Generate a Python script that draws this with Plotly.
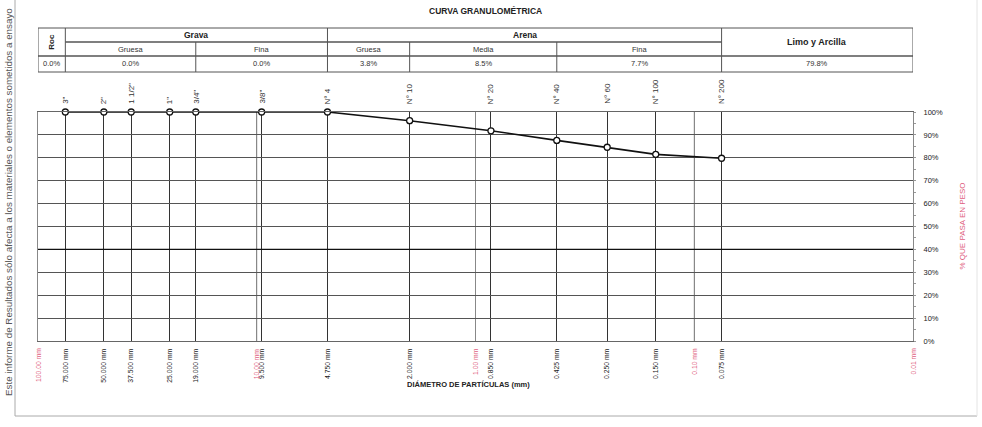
import math
import plotly.graph_objects as go

# Sieve series (ASTM) and cumulative percent passing
sieve_names = ['3"', '2"', '1 1/2"', '1"', '3/4"', '3/8"', "N° 4", "N° 10", "N° 20",
               "N° 40", "N° 60", "N° 100", "N° 200"]
sieve_mm = [75.0, 50.0, 37.5, 25.0, 19.0, 9.5, 4.75, 2.0, 0.85, 0.425, 0.25, 0.15, 0.075]
sieve_labels = ["75.000 mm", "50.000 mm", "37.500 mm", "25.000 mm", "19.000 mm", "9.500 mm",
                "4.750 mm", "2.000 mm", "0.850 mm", "0.425 mm", "0.250 mm", "0.150 mm",
                "0.075 mm"]
percent_passing = [100, 100, 100, 100, 100, 100, 100, 96.2, 91.8, 87.6, 84.6, 81.5, 79.8]

# Decade reference diameters
decades_mm = [100, 10, 1, 0.1, 0.01]
decade_labels = ["100.00 mm", "10.00 mm", "1.00 mm", "0.10 mm", "0.01 mm"]

# Soil fraction summary table
frac_bounds = [100, 75, 19, 4.75, 2.0, 0.425, 0.075, 0.01]
frac_groups = ["Grava", "Arena"]
frac_sub = ["Gruesa", "Fina", "Gruesa", "Media", "Fina"]
frac_values = ["0.0%", "0.0%", "0.0%", "3.8%", "8.5%", "7.7%", "79.8%"]

FONT = "Arial, Liberation Sans, sans-serif"
PINK = "#e0607e"
W, H = 982, 427
ML, MR, MT, MB = 38, 69, 112, 86
PW, PH = W - ML - MR, H - MT - MB


def py(px_y):
    """pixel row -> paper y"""
    return (H - MB - px_y) / PH


def pxx(px_x):
    """pixel column -> paper x"""
    return (px_x - ML) / PW


def lx(v):
    return math.log10(v)


def mid(a, b):
    return (lx(a) + lx(b)) / 2


def note(**kw):
    base = dict(showarrow=False, xanchor="center", yanchor="middle")
    base.update(kw)
    return base


fig = go.Figure()

fig.add_trace(go.Scatter(
    x=sieve_mm, y=percent_passing, mode="lines+markers",
    line=dict(color="#111", width=1.6),
    marker=dict(symbol="circle", size=6, color="white", line=dict(color="#111", width=1.3)),
    hoverinfo="skip", showlegend=False, cliponaxis=False,
))

shapes = []
annotations = []

# Decade verticals (lighter)
for d in decades_mm[1:-1]:
    shapes.append(dict(type="line", xref="x", yref="paper", x0=d, x1=d, y0=0, y1=1,
                       line=dict(color="#9a9a9a", width=1), layer="below"))

# 40 % reference line
shapes.append(dict(type="line", xref="paper", yref="y", x0=0, x1=1, y0=40, y1=40,
                   line=dict(color="#111", width=1.4)))

# Table grid
rows = [py(28), py(42), py(56), py(72)]
tcol = "#555"
for yv in [rows[0], rows[3]]:
    shapes.append(dict(type="line", xref="x", yref="paper", x0=frac_bounds[0], x1=frac_bounds[-1],
                       y0=yv, y1=yv, line=dict(color=tcol, width=1)))
shapes.append(dict(type="line", xref="x", yref="paper", x0=frac_bounds[1], x1=frac_bounds[-2],
                   y0=rows[1], y1=rows[1], line=dict(color=tcol, width=1.3)))
shapes.append(dict(type="line", xref="x", yref="paper", x0=frac_bounds[0], x1=frac_bounds[-1],
                   y0=rows[2], y1=rows[2], line=dict(color=tcol, width=1.3)))
for b in frac_bounds:
    top = rows[1] if b in (19, 2.0, 0.425) else rows[0]
    shapes.append(dict(type="line", xref="x", yref="paper", x0=b, x1=b, y0=top, y1=rows[3],
                       line=dict(color=tcol, width=1)))

# Table texts
annotations.append(note(x=mid(100, 75), y=(rows[0] + rows[2]) / 2, xref="x", yref="paper",
                        text="<b>Roc</b>", textangle=-90,
                        font=dict(size=8, color="#222", family=FONT)))
annotations.append(note(x=mid(75, 4.75), y=(rows[0] + rows[1]) / 2, xref="x", yref="paper",
                        text="<b>" + frac_groups[0] + "</b>",
                        font=dict(size=8.5, color="#222", family=FONT)))
annotations.append(note(x=mid(4.75, 0.075), y=(rows[0] + rows[1]) / 2, xref="x", yref="paper",
                        text="<b>" + frac_groups[1] + "</b>",
                        font=dict(size=8.5, color="#222", family=FONT)))
annotations.append(note(x=mid(0.075, 0.01), y=(rows[0] + rows[2]) / 2, xref="x", yref="paper",
                        text="<b>Limo y Arcilla</b>",
                        font=dict(size=9, color="#222", family=FONT)))
for j, name in enumerate(frac_sub):
    a, b = frac_bounds[j + 1], frac_bounds[j + 2]
    annotations.append(note(x=mid(a, b), y=(rows[1] + rows[2]) / 2, xref="x", yref="paper",
                            text=name, font=dict(size=7.5, color="#333", family=FONT)))
for j, val in enumerate(frac_values):
    a, b = frac_bounds[j], frac_bounds[j + 1]
    annotations.append(note(x=mid(a, b), y=(rows[2] + rows[3]) / 2, xref="x", yref="paper",
                            text=val, font=dict(size=7.5, color="#333", family=FONT)))

# Sieve names above the plot
for name, d in zip(sieve_names, sieve_mm):
    annotations.append(note(x=lx(d), y=1, xref="x", yref="paper", text=name, textangle=-90,
                            yanchor="bottom", yshift=6,
                            font=dict(size=8, color="#333", family=FONT)))

# Decade labels below the plot
for lab, d in zip(decade_labels, decades_mm):
    annotations.append(note(x=lx(d), y=0, xref="x", yref="paper", text=lab, textangle=-90,
                            yanchor="top", yshift=-5,
                            font=dict(size=6.8, color=PINK, family=FONT)))

# Titles
annotations.append(note(x=pxx(485), y=py(11), xref="paper", yref="paper",
                        text="<b>CURVA GRANULOMÉTRICA</b>",
                        font=dict(size=8.5, color="#222", family=FONT)))
annotations.append(note(x=pxx(468), y=py(384), xref="paper", yref="paper",
                        text="<b>DIÁMETRO DE PARTÍCULAS (mm)</b>",
                        font=dict(size=7.5, color="#222", family=FONT)))
annotations.append(note(x=pxx(962), y=0.5, xref="paper", yref="paper",
                        text="% QUE PASA EN PESO", textangle=-90,
                        font=dict(size=8, color=PINK, family=FONT)))
annotations.append(note(x=pxx(8), y=py(398), xref="paper", yref="paper", yanchor="bottom",
                        text="Este informe de Resultados sólo afecta a los materiales o elementos sometidos a ensayo",
                        textangle=-90,
                        font=dict(size=9.8, color="#555", family=FONT)))

# Page frame
shapes.append(dict(type="line", xref="paper", yref="paper", x0=pxx(15), x1=pxx(15),
                   y0=py(0), y1=py(416), line=dict(color="#aaa", width=1)))
shapes.append(dict(type="line", xref="paper", yref="paper", x0=pxx(15), x1=pxx(977),
                   y0=py(416), y1=py(416), line=dict(color="#aaa", width=1)))
shapes.append(dict(type="line", xref="paper", yref="paper", x0=pxx(977), x1=pxx(977),
                   y0=py(0), y1=py(416), line=dict(color="#e4e4e4", width=1)))

fig.update_layout(
    width=W, height=H,
    margin=dict(l=ML, r=MR, t=MT, b=MB, pad=0),
    paper_bgcolor="white", plot_bgcolor="white",
    font=dict(family=FONT, color="#222"),
    shapes=shapes, annotations=annotations,
    xaxis=dict(
        type="log", range=[2, -2], tickvals=sieve_mm, ticktext=sieve_labels,
        tickangle=-90, tickfont=dict(size=6.8, color="#222", family=FONT),
        showgrid=True, gridcolor="#333", gridwidth=1, zeroline=False,
        showline=True, linecolor="#666", mirror=True, ticks="", ticklabelstandoff=4,
        minor=dict(tickvals=decades_mm, showgrid=True, gridcolor="#888", gridwidth=1),
    ),
    yaxis=dict(
        side="right", range=[0, 100], tickvals=list(range(0, 101, 10)),
        ticktext=[f"{v}%" for v in range(0, 101, 10)],
        tickfont=dict(size=7.5, color="#222", family=FONT),
        showgrid=True, gridcolor="#555", gridwidth=1, zeroline=False,
        showline=True, linecolor="#888", mirror=True, ticks="", ticklabelstandoff=8,
        minor=dict(dtick=5, ticks="outside", ticklen=2, tickcolor="#999"),
    ),
)

fig.write_html("out.html")
